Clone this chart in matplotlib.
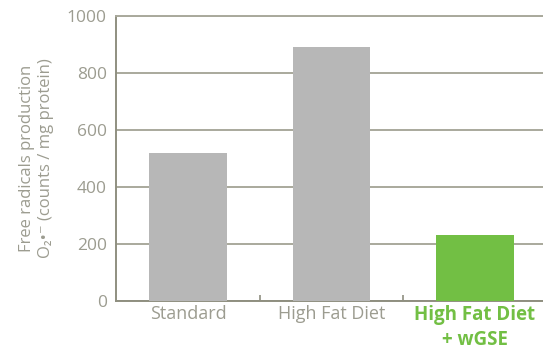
import matplotlib.pyplot as plt
from matplotlib.ticker import FixedLocator

# group labels and superoxide readings
groups = ['Standard', 'High Fat Diet', 'High Fat Diet\n+ wGSE']
values = [520, 893, 230]
bar_colors = ['#b7b7b7', '#b7b7b7', '#72bf44']
yticks = [0, 200, 400, 600, 800, 1000]

axis_col = '#8f8f80'
text_col = '#9c9c90'
fonts = ['Open Sans', 'DejaVu Sans']

fig = plt.figure(figsize=(5.43, 3.49), dpi=100)
ax = fig.add_axes([0.2145, 0.1375, 0.792, 0.8165])

x = list(range(len(groups)))
ax.bar(x, values, width=0.54, color=bar_colors, zorder=3)

ax.set_xlim(-0.5, 2.5)
ax.set_ylim(0, 1000)
ax.set_yticks(yticks)
ax.set_yticklabels([str(t) for t in yticks], family=fonts, fontsize=12.5, color=text_col)
ax.yaxis.grid(True, color='#a9a99c', linewidth=1.4, zorder=0)
ax.set_axisbelow(True)

ax.set_xticks(x)
ax.set_xticklabels(groups, family=fonts, fontsize=13, color=text_col, linespacing=1.3)
lbl = ax.get_xticklabels()[2]
lbl.set_color('#72bf44')
lbl.set_fontweight('bold')
lbl.set_fontsize(13.5)
ax.tick_params(axis='x', length=0, pad=3)
ax.tick_params(axis='y', length=0, pad=7)
ax.xaxis.set_minor_locator(FixedLocator([0.5, 1.5]))
ax.tick_params(axis='x', which='minor', direction='in', length=4, width=1.2, color=axis_col)

for side in ['left', 'bottom', 'top']:
    ax.spines[side].set_color(axis_col)
    ax.spines[side].set_linewidth(1.4)
ax.spines['top'].set_color('#a9a99c')
ax.spines['right'].set_visible(False)

ax.set_ylabel('Free radicals production\nO\u2082\u2022\u207b (counts / mg protein)',
              family=fonts, fontsize=12, color=text_col, linespacing=1.3, labelpad=9)

fig.savefig('out.png', dpi=100)
